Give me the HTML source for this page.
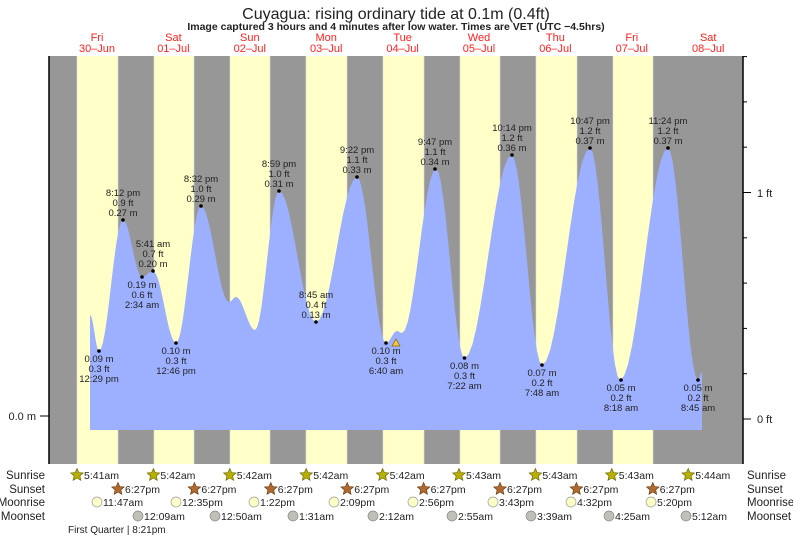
<!DOCTYPE html>
<html><head><meta charset="utf-8"><style>
body{margin:0;background:#fff;}
svg{display:block;font-family:"Liberation Sans",sans-serif;}
</style></head><body>
<svg id="s" width="793" height="538" viewBox="0 0 793 538">
<rect width="793" height="538" fill="#fff"/>
<text x="396" y="19" font-size="16" text-anchor="middle" fill="#222">Cuyagua: rising  ordinary tide at 0.1m (0.4ft)</text>
<text x="396" y="30" font-size="10.5" font-weight="bold" text-anchor="middle" fill="#222">Image captured 3 hours and 4 minutes after low water. Times are VET (UTC −4.5hrs)</text>
<g id="stripes"></g>
<path id="tide" fill="#9db0ff"/>
<g id="days" font-size="11" fill="#ff2020" text-anchor="middle"></g>
<line x1="49" y1="56" x2="49" y2="464" stroke="#000" stroke-width="1.5"/>
<line x1="743" y1="56" x2="743" y2="464" stroke="#000" stroke-width="1.5"/>
<line x1="40" y1="416" x2="49" y2="416" stroke="#000"/>
<text x="36" y="420" font-size="11" text-anchor="end" fill="#222">0.0 m</text>
<g id="rt" stroke="#000"></g>
<text x="757" y="423" font-size="11" fill="#222">0 ft</text>
<text x="757" y="197" font-size="11" fill="#222">1 ft</text>
<g id="lab" font-size="9.5" fill="#222" text-anchor="middle"></g>
<polygon points="396,339 392,346 400,346" fill="#f3c640" stroke="#886600" stroke-width="0.7"/>
<g font-size="11.5" fill="#222">
<text x="45" y="479" text-anchor="end">Sunrise</text>
<text x="45" y="493" text-anchor="end">Sunset</text>
<text x="45" y="506" text-anchor="end">Moonrise</text>
<text x="45" y="520" text-anchor="end">Moonset</text>
<text x="747" y="479">Sunrise</text>
<text x="747" y="493">Sunset</text>
<text x="747" y="506">Moonrise</text>
<text x="747" y="520">Moonset</text>
</g>
<g id="ev" font-size="10.5" fill="#222"></g>
<text x="68" y="533" font-size="10" fill="#222">First Quarter | 8:21pm</text>
</svg>
<script>
const NS="http://www.w3.org/2000/svg";
function el(p,t,a,txt){const e=document.createElementNS(NS,t);for(const k in a)e.setAttribute(k,a[k]);if(txt!=null)e.textContent=txt;document.getElementById(p).appendChild(e);return e;}
const xs=[49,77,118,154,194,230,270,306,347,383,424,460,500,536,577,613,653,743];
for(let i=0;i<xs.length-1;i++)el('stripes','rect',{x:xs[i],y:56,width:xs[i+1]-xs[i],height:408,fill:i%2?'#ffffc8':'#979797'});
for(let i=1;i<xs.length-1;i++)el('stripes','line',{x1:xs[i],y1:56,x2:xs[i],y2:464,stroke:'#ddd','stroke-width':0.6});
const days=[["Fri","30\u2013Jun"],["Sat","01\u2013Jul"],["Sun","02\u2013Jul"],["Mon","03\u2013Jul"],["Tue","04\u2013Jul"],["Wed","05\u2013Jul"],["Thu","06\u2013Jul"],["Fri","07\u2013Jul"],["Sat","08\u2013Jul"]];
days.forEach((d,i)=>{const x=97+76.4*i;el('days','text',{x:x,y:41},d[0]);el('days','text',{x:x,y:52},d[1]);});
for(let k=0;k<9;k++){const y=419-45.3*k;el('rt','line',{x1:743,y1:y,x2:(k%5==0)?751:747,y2:y});}
const P=[[90,315],[99,351],[123,220],[142,277],[153,271],[176,343],[201,206],[229,302],[236,297],[255,330],[279,191],[316,322],[357,177],[386,343],[397,331],[402,333],[436,169],[464.5,358],[511.7,155],[542,365],[590,148],[620,380],[668,148],[698,380],[702,372]];
let d="M90,430 L90,315";
for(let i=0;i<P.length-1;i++){const [x0,y0]=P[i],[x1,y1]=P[i+1];for(let s=1;s<=12;s++){const t=s/12;const x=x0+(x1-x0)*t;const y=y0+(y1-y0)*(1-Math.cos(Math.PI*t))/2;d+=" L"+x.toFixed(1)+","+y.toFixed(1);}}
d+=" L702,430 Z";document.getElementById('tide').setAttribute('d',d);
function hi(x,y,a,b,c){el('lab','circle',{cx:x,cy:y,r:1.8,fill:'#000'});el('lab','text',{x:x,y:y-24},a);el('lab','text',{x:x,y:y-14},b);el('lab','text',{x:x,y:y-4},c);}
function lo(x,y,a,b,c){el('lab','circle',{cx:x,cy:y,r:1.8,fill:'#000'});el('lab','text',{x:x,y:y+11},a);el('lab','text',{x:x,y:y+21},b);el('lab','text',{x:x,y:y+31},c);}
lo(99,351,"0.09 m","0.3 ft","12:29 pm");
hi(123,220,"8:12 pm","0.9 ft","0.27 m");
lo(142,277,"0.19 m","0.6 ft","2:34 am");
hi(153,271,"5:41 am","0.7 ft","0.20 m");
lo(176,343,"0.10 m","0.3 ft","12:46 pm");
hi(201,206,"8:32 pm","1.0 ft","0.29 m");
hi(279,191,"8:59 pm","1.0 ft","0.31 m");
hi(316,322,"8:45 am","0.4 ft","0.13 m");
hi(357,177,"9:22 pm","1.1 ft","0.33 m");
lo(386,343,"0.10 m","0.3 ft","6:40 am");
hi(435,169,"9:47 pm","1.1 ft","0.34 m");
lo(464.5,358,"0.08 m","0.3 ft","7:22 am");
hi(512,155,"10:14 pm","1.2 ft","0.36 m");
lo(542,365,"0.07 m","0.2 ft","7:48 am");
hi(590,148,"10:47 pm","1.2 ft","0.37 m");
lo(621,380,"0.05 m","0.2 ft","8:18 am");
hi(668,148,"11:24 pm","1.2 ft","0.37 m");
lo(698,380,"0.05 m","0.2 ft","8:45 am");
function star(cx,cy,fill,stroke){let pts=[];for(let i=0;i<10;i++){const r=i%2?3:6.5;const a=-Math.PI/2+i*Math.PI/5;pts.push((cx+r*Math.cos(a)).toFixed(1)+","+(cy+r*Math.sin(a)).toFixed(1));}el('ev','polygon',{points:pts.join(' '),fill:fill,stroke:stroke,'stroke-width':0.7});}
const sr=["5:41am","5:42am","5:42am","5:42am","5:42am","5:43am","5:43am","5:43am","5:44am"];
const ss="6:27pm";
const mr=["11:47am","12:35pm","1:22pm","2:09pm","2:56pm","3:43pm","4:32pm","5:20pm"];
const ms=["12:09am","12:50am","1:31am","2:12am","2:55am","3:39am","4:25am","5:12am"];
const mrx=[97,176,254,334,413,493,571,651];
const msx=[138,215,293,373,452,531,609,686];
for(let i=0;i<9;i++){const x=77+76.4*i;star(x,475,'#b8b000','#6a6a00');el('ev','text',{x:x+7,y:479},sr[i]);}
for(let i=0;i<8;i++){const x=118+76.4*i;star(x,489,'#b06a30','#6a3a10');el('ev','text',{x:x+7,y:493},ss);}
for(let i=0;i<8;i++){el('ev','circle',{cx:mrx[i],cy:502,r:5,fill:'#ffffc8',stroke:'#999','stroke-width':0.7});el('ev','text',{x:mrx[i]+6,y:506},mr[i]);}
for(let i=0;i<8;i++){el('ev','circle',{cx:msx[i],cy:516,r:5,fill:'#c0c0b8',stroke:'#888','stroke-width':0.7});el('ev','text',{x:msx[i]+6,y:520},ms[i]);}
</script>
</body></html>
